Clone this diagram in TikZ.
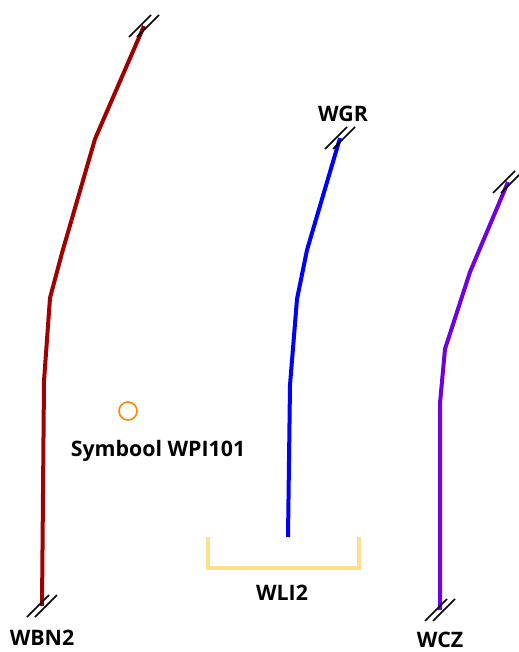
\documentclass[tikz,border=0pt]{standalone}
\usepackage{xcolor}
\usepackage{fontspec}
\setmainfont{Open Sans}
\usepackage{tikz}
\usetikzlibrary{positioning}

\definecolor{wbnred}{RGB}{160,0,0}
\definecolor{wgrblue}{RGB}{0,0,255}
\definecolor{wczpurple}{RGB}{112,0,224}
\definecolor{wpiorange}{RGB}{255,136,0}
\definecolor{wliyellow}{RGB}{255,224,138}

\tikzset{
  dslash/.pic={
    \draw[black, line width=1.2pt] (-15,11) -- (7,-11);
    \draw[black, line width=1.2pt] (-7,11) -- (15,-11);
  },
  lbl/.style={font=\fontsize{16}{19}\selectfont\bfseries, inner sep=0pt}
}

\begin{document}
\begin{tikzpicture}[x=0.75pt, y=-0.75pt]
\useasboundingbox (0,0) rectangle (518,652);

\coordinate (wbntop) at (144,26);
\coordinate (wbnbot) at (42,606);
\coordinate (wgrtop) at (340,138);
\coordinate (wgrbot) at (288,537);
\coordinate (wcztop) at (508,182);
\coordinate (wczbot) at (440,610);

\draw[wbnred, line width=3pt, line join=round] (wbntop) -- (95,139) -- (62,253) -- (50,298) -- (44,381) -- (wbnbot);
\draw[wgrblue, line width=3pt, line join=round] (wgrtop) -- (307,250) -- (297,299) -- (290,385) -- (wgrbot);
\draw[wczpurple, line width=3pt, line join=round] (wcztop) -- (470,272) -- (445,349) -- (440,403) -- (wczbot);

\pic at (wbntop) {dslash};
\pic at (wbnbot) {dslash};
\pic at (wgrtop) {dslash};
\pic at (wcztop) {dslash};
\pic at (wczbot) {dslash};

\draw[wliyellow, line width=3pt] (208,537) -- (208,568) -- (359,568) -- (359,537);

\node (wpi) [circle, draw=wpiorange, line width=1.2pt, minimum size=13.5pt, inner sep=0pt] at (128,411) {};

\node (wgr) [lbl] at (343,114) {WGR};
\node (wbn) [lbl] at (42,638) {WBN2};
\node (wcz) [lbl] at (440,640) {WCZ};
\node (wli) [lbl] at (282,593) {WLI2};
\node (sym) [lbl] at (158,451) {Symbool WPI101};
\end{tikzpicture}
\end{document}
